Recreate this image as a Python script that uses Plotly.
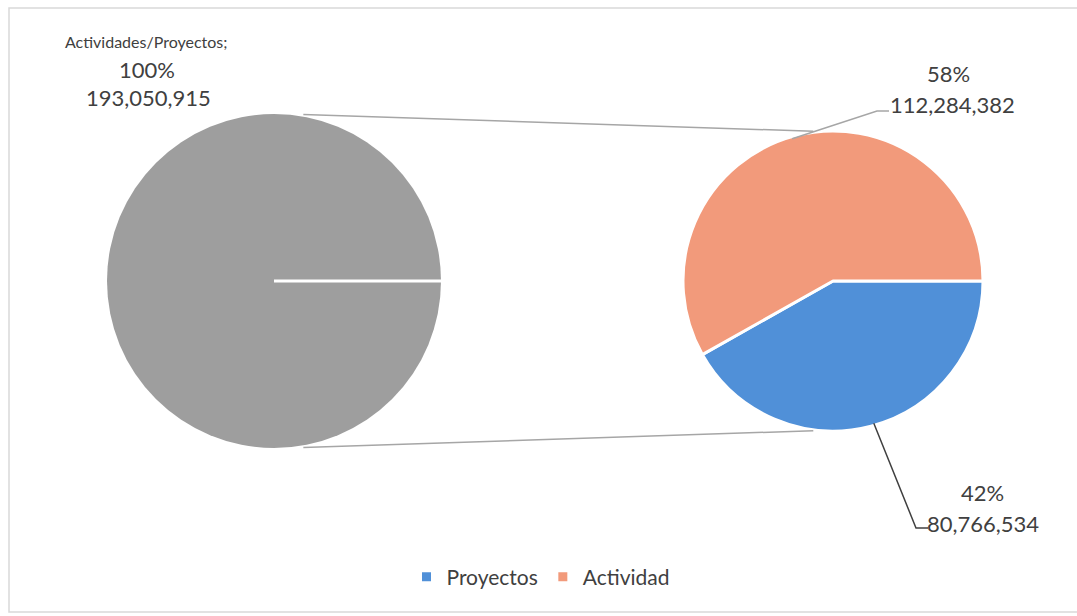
import math
import plotly.graph_objects as go

W, H = 1077, 616

# ---- data ----
total_label = "Actividades/Proyectos"
total_value = 193050915
total_pct = "100%"

sub_labels = ["Proyectos", "Actividad"]
sub_values = [80766534, 112284382]
sub_pcts = ["42%", "58%"]

colors_sub = ["#5090d8", "#f29a7b"]
color_total = "#9e9e9e"
text_color = "#404040"
FONT = "Lato"

# ---- geometry (pixels) ----
L_CX, L_CY, L_R = 274, 281, 167
R_CX, R_CY, R_R = 833, 281, 150


def px(x):
    return x / W


def py(y):
    return 1 - y / H


def domain(cx, cy, r):
    return dict(x=[px(cx - r), px(cx + r)], y=[py(cy + r), py(cy - r)])


def pt(cx, cy, r, deg):
    a = math.radians(deg)
    return cx + r * math.cos(a), cy - r * math.sin(a)


fig = go.Figure()
fig.add_trace(go.Pie(
    labels=[total_label], values=[total_value], sort=False,
    marker=dict(colors=[color_total], line=dict(width=0)),
    textinfo="none", hoverinfo="label+value+percent", showlegend=False,
    domain=domain(L_CX, L_CY, L_R),
))
fig.add_trace(go.Pie(
    labels=sub_labels, values=sub_values, sort=False,
    direction="clockwise", rotation=90,
    marker=dict(colors=colors_sub, line=dict(color="white", width=3)),
    textinfo="none", hoverinfo="label+value+percent",
    domain=domain(R_CX, R_CY, R_R),
))

shapes = []
# white radial line in the full pie
x2, y2 = pt(L_CX, L_CY, L_R, 0)
shapes.append(dict(type="line", xref="paper", yref="paper",
                   x0=px(L_CX), y0=py(L_CY), x1=px(x2), y1=py(y2),
                   line=dict(color="white", width=3)))
# connector lines
for sgn in (1, -1):
    ax, ay = pt(L_CX, L_CY, L_R + 2, sgn * 80)
    bx, by = pt(R_CX, R_CY, R_R + 1, sgn * 97.5)
    shapes.append(dict(type="line", xref="paper", yref="paper",
                       x0=px(ax), y0=py(ay), x1=px(bx), y1=py(by),
                       line=dict(color="#a6a6a6", width=1.5)))
# leader line for Actividad label
s0 = pt(R_CX, R_CY, R_R - 2, 106)
shapes.append(dict(type="path", xref="paper", yref="paper",
                   path=f"M {px(s0[0])},{py(s0[1])} L {px(877)},{py(111)} L {px(889)},{py(111)}",
                   line=dict(color="#a6a6a6", width=1.5)))
# leader line for Proyectos label
s1 = pt(R_CX, R_CY, R_R - 2, -74)
shapes.append(dict(type="path", xref="paper", yref="paper",
                   path=f"M {px(s1[0])},{py(s1[1])} L {px(916)},{py(528)} L {px(928)},{py(528)}",
                   line=dict(color="#404040", width=1.5)))
# chart frame
shapes.append(dict(type="rect", xref="paper", yref="paper",
                   x0=px(9), y0=py(612), x1=px(1095), y1=py(8),
                   line=dict(color="#d9d9d9", width=1.5)))

annotations = [
    dict(x=px(146), y=py(41), text=total_label + ";", font=dict(size=16)),
    dict(x=px(147), y=py(69), text=total_pct, font=dict(size=22)),
    dict(x=px(148), y=py(98), text=f"{total_value:,}", font=dict(size=22)),
    dict(x=px(948), y=py(74), text=sub_pcts[1], font=dict(size=22)),
    dict(x=px(952), y=py(105), text=f"{sub_values[1]:,}", font=dict(size=22)),
    dict(x=px(982), y=py(492), text=sub_pcts[0], font=dict(size=22)),
    dict(x=px(983), y=py(523), text=f"{sub_values[0]:,}", font=dict(size=22)),
]
for a in annotations:
    a.update(xref="paper", yref="paper", showarrow=False,
             xanchor="center", yanchor="middle")
    a["font"].update(family=FONT, color=text_color)

fig.update_layout(
    width=W, height=H,
    margin=dict(l=0, r=0, t=0, b=0),
    paper_bgcolor="white", plot_bgcolor="white",
    font=dict(family=FONT, color=text_color),
    shapes=shapes, annotations=annotations,
    legend=dict(orientation="h", x=px(541), y=py(577),
                xanchor="center", yanchor="middle",
                font=dict(size=21, family=FONT, color=text_color),
                itemwidth=30),
)

fig.write_html("out.html", config={"displayModeBar": False},
               post_script="document.body.style.margin='0';document.body.style.overflow='hidden';")
